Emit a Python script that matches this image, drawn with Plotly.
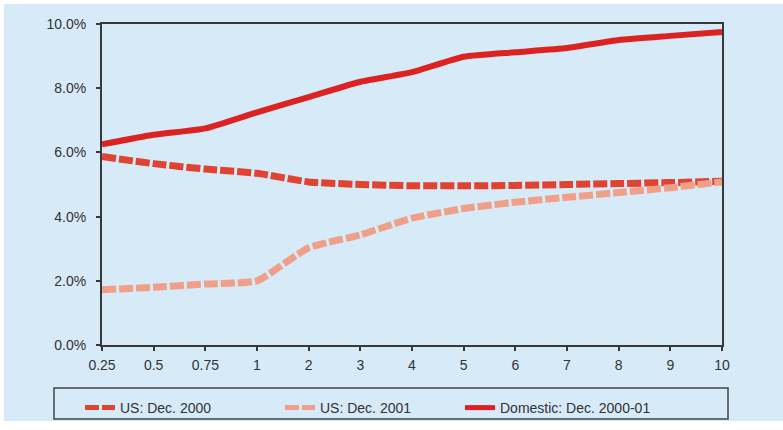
import plotly.graph_objects as go

maturities = ["0.25", "0.5", "0.75", "1", "2", "3", "4", "5", "6", "7", "8", "9", "10"]
us_dec_2000 = [5.87, 5.65, 5.48, 5.35, 5.08, 5.0, 4.96, 4.96, 4.97, 5.0, 5.03, 5.06, 5.1]
us_dec_2001 = [1.72, 1.8, 1.9, 2.0, 3.03, 3.43, 3.95, 4.25, 4.45, 4.6, 4.75, 4.9, 5.08]
domestic = [6.25, 6.55, 6.75, 7.25, 7.72, 8.2, 8.5, 8.98, 9.12, 9.25, 9.5, 9.63, 9.75]
y_ticks = [0, 2, 4, 6, 8, 10]
y_tick_labels = ["0.0%", "2.0%", "4.0%", "6.0%", "8.0%", "10.0%"]

BG = "#d6eaf8"
FONT = "Liberation Sans, Arial, sans-serif"

fig = go.Figure()
fig.add_trace(go.Scatter(
    x=maturities, y=us_dec_2000, mode="lines", name="US: Dec. 2000",
    line=dict(color="#e04331", width=7, dash="14px,3px", shape="spline", smoothing=0.5),
    legendwidth=155,
))
fig.add_trace(go.Scatter(
    x=maturities, y=us_dec_2001, mode="lines", name="US: Dec. 2001",
    line=dict(color="#f0a088", width=7, dash="14px,3px", shape="spline", smoothing=0.5),
    legendwidth=135,
))
fig.add_trace(go.Scatter(
    x=maturities, y=domestic, mode="lines", name="Domestic: Dec. 2000-01",
    line=dict(color="#dd2222", width=6, shape="spline", smoothing=0.5),
    legendwidth=160,
))

# layout geometry (plot area: x 102-722, y 24-345)
L, R, T, B = 102, 722, 24, 345
W, H = R - L, B - T

def px_x(v):
    return (v - L) / W

def px_y(v):
    return (B - v) / H

fig.update_layout(
    width=783, height=430,
    margin=dict(l=L, r=783 - R, t=T, b=430 - B, autoexpand=False),
    paper_bgcolor="white",
    plot_bgcolor=BG,
    font=dict(family=FONT, size=14, color="#333333"),
    showlegend=True,
    legend=dict(
        orientation="h", x=px_x(80), xanchor="left",
        y=px_y(408), yanchor="middle",
        bgcolor="rgba(0,0,0,0)", borderwidth=0,
        font=dict(family=FONT, size=14, color="#333333"),
        itemsizing="constant",
    ),
    shapes=[
        dict(type="rect", xref="paper", yref="paper", layer="below",
             x0=px_x(4), x1=px_x(783), y0=px_y(421), y1=px_y(4),
             fillcolor=BG, line=dict(width=0)),
        dict(type="rect", xref="paper", yref="paper", layer="above",
             x0=px_x(54), x1=px_x(728), y0=px_y(419), y1=px_y(388),
             fillcolor="rgba(0,0,0,0)", line=dict(color="#444444", width=1.5)),
    ],
)

fig.update_xaxes(
    type="category", range=[0, len(maturities) - 1],
    showline=True, linecolor="#383838", linewidth=2, mirror=True,
    ticks="outside", ticklen=4, tickcolor="#383838", tickwidth=1.5,
    showgrid=False, zeroline=False,
    tickfont=dict(family=FONT, size=14, color="#333333"),
    ticklabelstandoff=2,
)
fig.update_yaxes(
    range=[0, 10], tickvals=y_ticks, ticktext=y_tick_labels,
    showline=True, linecolor="#383838", linewidth=2, mirror=True,
    ticks="outside", ticklen=4, tickcolor="#383838", tickwidth=1.5,
    showgrid=False, zeroline=False,
    tickfont=dict(family=FONT, size=14, color="#333333"),
    ticklabelstandoff=7,
)

fig.write_html(
    "out.html",
    config={"displayModeBar": False},
    post_script="document.body.style.margin='0';",
)
